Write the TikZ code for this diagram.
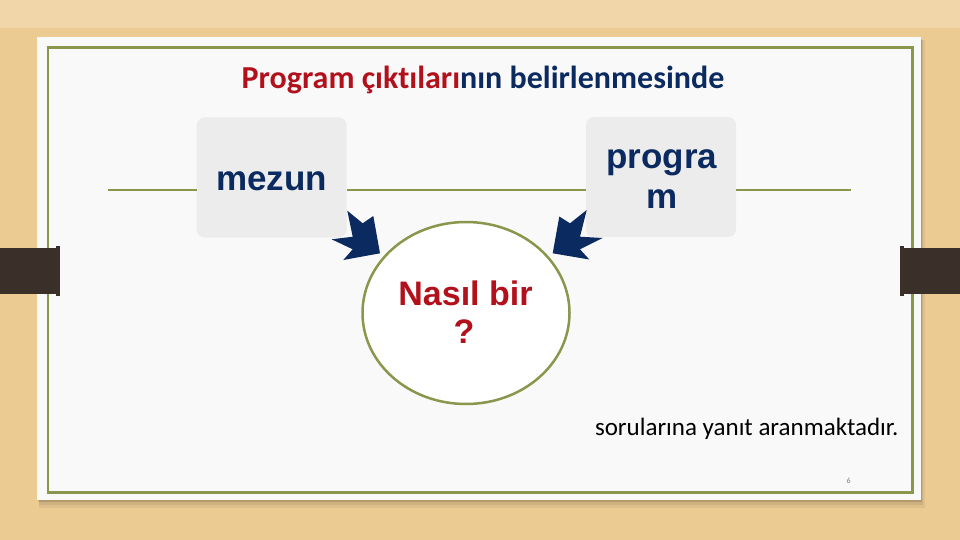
\documentclass[tikz,border=0pt]{standalone}
\usepackage{fontspec}
\setmainfont{Carlito}[Ligatures=NoCommon]
\newfontfamily\arialf{Liberation Sans}
\usetikzlibrary{shapes.geometric}
\definecolor{wood}{HTML}{ECCB93}
\definecolor{woodlight}{HTML}{F0D6A8}
\definecolor{pagewhite}{HTML}{F9F9F9}
\definecolor{olivec}{HTML}{8A964C}
\definecolor{navyc}{HTML}{0B2A5F}
\definecolor{redc}{HTML}{B2111C}
\definecolor{boxgray}{HTML}{ECECEC}
\definecolor{clipc}{HTML}{3B2F2A}
\tikzset{
  txt/.style={inner sep=0pt, outer sep=0pt},
  bigword/.style={txt, anchor=base, text=navyc, font=\arialf\bfseries\fontsize{35}{40}\selectfont},
  qword/.style={txt, anchor=base, text=redc, font=\arialf\bfseries\fontsize{34}{38}\selectfont},
  graybox/.style={rectangle, rounded corners=8pt, fill=boxgray, draw=none, minimum width=150pt, minimum height=120pt, inner sep=0pt},
  linkline/.style={draw=olivec, line width=2pt},
  notch/.style={fill=navyc, draw=none},
}
\begin{document}
\begin{tikzpicture}[x=1pt,y=-1pt]
\useasboundingbox (0,0) rectangle (960,540);
% background
\fill[wood] (0,0) rectangle (960,540);
\fill[woodlight] (0,0) rectangle (960,28);
% page shadow
\fill[black,opacity=0.06] (39,40) rectangle (925,508);
\fill[black,opacity=0.08] (39,40) rectangle (923,505);
\fill[black,opacity=0.12] (38,39) rectangle (922,502);
% page
\node[fill=pagewhite, draw=none, inner sep=0pt, minimum width=884pt, minimum height=463pt, anchor=north west] (page) at (37,37) {};
% frame
\draw[olivec, line width=2.5pt] (47.8,47.5) rectangle (912.4,492.4);
% clips
\fill[clipc] (0,248) rectangle (58,294);
\fill[clipc] (56,246) rectangle (60,296);
\fill[clipc] (902,248) rectangle (960,294);
\fill[clipc] (900,246) rectangle (904,296);
% title
\node[txt, anchor=base, font=\bfseries\fontsize{32}{36}\selectfont] (title) at (483,89) {\textcolor{redc}{Program çıktıları}\textcolor{navyc}{nın belirlenmesinde}};
% boxes
\node[graybox] (mezunbox) at (271.7,177.5) {};
\node[graybox] (progbox) at (661,177) {};
% lines
\coordinate (lend) at (108,190);
\coordinate (rend) at (851,190);
\draw[linkline] (lend) -- (mezunbox.west |- lend);
\draw[linkline] (mezunbox.east |- lend) -- (progbox.west |- lend);
\draw[linkline] (progbox.east |- lend) -- (rend);
% texts in boxes
\node[bigword] (mezun) at (271.7,190) {mezun};
\node[bigword] (prog1) at (661.7,168.3) {progra};
\node[bigword] (prog2) at (661.7,208.3) {m};
% ellipse
\node[ellipse, draw=olivec, line width=2.5pt, fill=white, minimum width=207pt, minimum height=182pt, inner sep=0pt] (circ) at (466,313) {};
\node[qword] (q1) at (465.5,305) {Nasıl bir};
\node[qword] (q2) at (464,343) {?};
% arrowheads
\fill[notch] (347.3,210.7) -- (362.7,223.3) -- (373.3,216) -- (380,253.3) -- (343.3,260) -- (352.7,249.3) -- (331.7,239.3) -- (352.7,236.7) -- cycle;
\fill[notch] (586.7,210) -- (570,223.3) -- (559.3,216.5) -- (552.7,253.3) -- (589.3,259.5) -- (580,249.3) -- (602.7,238) -- (580,236.7) -- cycle;
% bottom text
\node[txt, anchor=base west, font=\fontsize{25}{28}\selectfont, text=black] (ans) at (595,435) {sorularına yanıt aranmaktadır.};
% page number
\node[txt, anchor=base, font=\fontsize{8}{9}\selectfont, text=gray] (pnum) at (848.7,483) {6};
\end{tikzpicture}
\end{document}
